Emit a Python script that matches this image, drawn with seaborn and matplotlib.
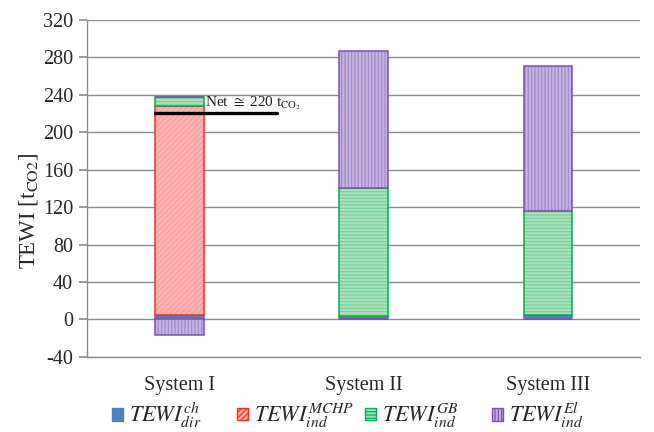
import pandas as pd
import matplotlib
matplotlib.use('Agg')
import matplotlib.pyplot as plt
from matplotlib.patches import Patch
import seaborn as sns

sns.set_theme(style="white")
plt.rcParams['font.family'] = ['Liberation Serif', 'DejaVu Serif']
plt.rcParams['mathtext.fontset'] = 'stix'
plt.rcParams['hatch.linewidth'] = 0.9
plt.rcParams['axes.unicode_minus'] = False

# data (t CO2)
systems = ['System I', 'System II', 'System III']
dir_ch = [5, 4, 5]
ind_mchp = [222.5, 0, 0]
ind_gb = [10, 136, 110.5]
ind_el = [-17, 147, 155]
net_value = 220

labels = [r'$TEWI_{dir}^{ch}$', r'$TEWI_{ind}^{MCHP}$',
          r'$TEWI_{ind}^{GB}$', r'$TEWI_{ind}^{El}$']
# (fill, hatch colour, edge, hatch)
styles = [('#4F81BD', '#4F81BD', '#4A7EBB', ''),
          ('#FFB3B3', '#FF9C9C', '#FF2A1A', '//////'),
          ('#A8E2BC', '#7FD09C', '#00B050', '-----'),
          ('#C4B3E0', '#A58CCC', '#7D4FB0', '|||||')]

df = pd.DataFrame({'system': systems, 'dir': dir_ch, 'mchp': ind_mchp,
                   'gb': ind_gb, 'el': ind_el})
pos = df[['dir', 'mchp', 'gb', 'el']].clip(lower=0)
neg = df[['dir', 'mchp', 'gb', 'el']].clip(upper=0)
bottoms = pos.cumsum(axis=1) - pos

fig = plt.figure(figsize=(6.54, 4.32), dpi=100)
ax = fig.add_axes([0.133, 0.174, 0.846, 0.780])

W = 0.265
for i, col in enumerate(['dir', 'mchp', 'gb', 'el']):
    fc, hc, ec, h = styles[i]
    for vals, bot in [(pos[col], bottoms[col]), (neg[col], 0 * neg[col])]:
        if (vals == 0).all():
            continue
        # fill + hatch
        sns.barplot(x=df['system'], y=vals.values, ax=ax, width=W, errorbar=None,
                    color=fc, bottom=bot.values, facecolor=fc, edgecolor=hc,
                    hatch=h, linewidth=0)
        # outline
        sns.barplot(x=df['system'], y=vals.values, ax=ax, width=W, errorbar=None,
                    color=ec, bottom=bot.values, facecolor='none', edgecolor=ec,
                    linewidth=1.1)

# net line for System I
ax.plot([-W / 2, 0.53], [net_value, net_value], color='black', lw=2.4, zorder=5)
ax.text(W / 2 + 0.01, 228, r'Net $\cong$ %d t$_{\mathrm{CO}_2}$' % net_value,
        fontsize=11, color='#222222', va='baseline', ha='left', zorder=6)

ax.set_ylim(-40, 320)
ax.set_xlim(-0.5, 2.5)
ax.set_yticks(range(-40, 321, 40))
ax.yaxis.grid(True, color='#8C8C8C', lw=1.0)
ax.set_axisbelow(True)
for s in ['top', 'right']:
    ax.spines[s].set_visible(False)
for s in ['left', 'bottom']:
    ax.spines[s].set_color('#8C8C8C')
    ax.spines[s].set_linewidth(1.0)
ax.tick_params(axis='y', which='both', left=True, length=6, color='#8C8C8C',
               labelsize=14.5, pad=4)
ax.tick_params(axis='x', bottom=False, labelsize=14.5, pad=8)
ax.set_xlabel('')
ax.set_ylabel(r'TEWI [t$_{\mathrm{CO2}}$]', fontsize=16.5)
ax.yaxis.set_label_coords(-0.085, 0.433)

# legend: equal-width columns like the original
leg_x = [112, 237, 365, 492]
for s, lab, x0 in zip(styles, labels, leg_x):
    hnd = Patch(facecolor=s[0], edgecolor=s[2], hatch=s[3], lw=1.0)
    fig.legend([hnd], [lab], loc='center left', bbox_to_anchor=(x0 / 654, 0.038),
               frameon=False, fontsize=16, handlelength=0.5, handleheight=0.5,
               handletextpad=0.25, borderpad=0, borderaxespad=0)

fig.savefig('out.png', dpi=100)
